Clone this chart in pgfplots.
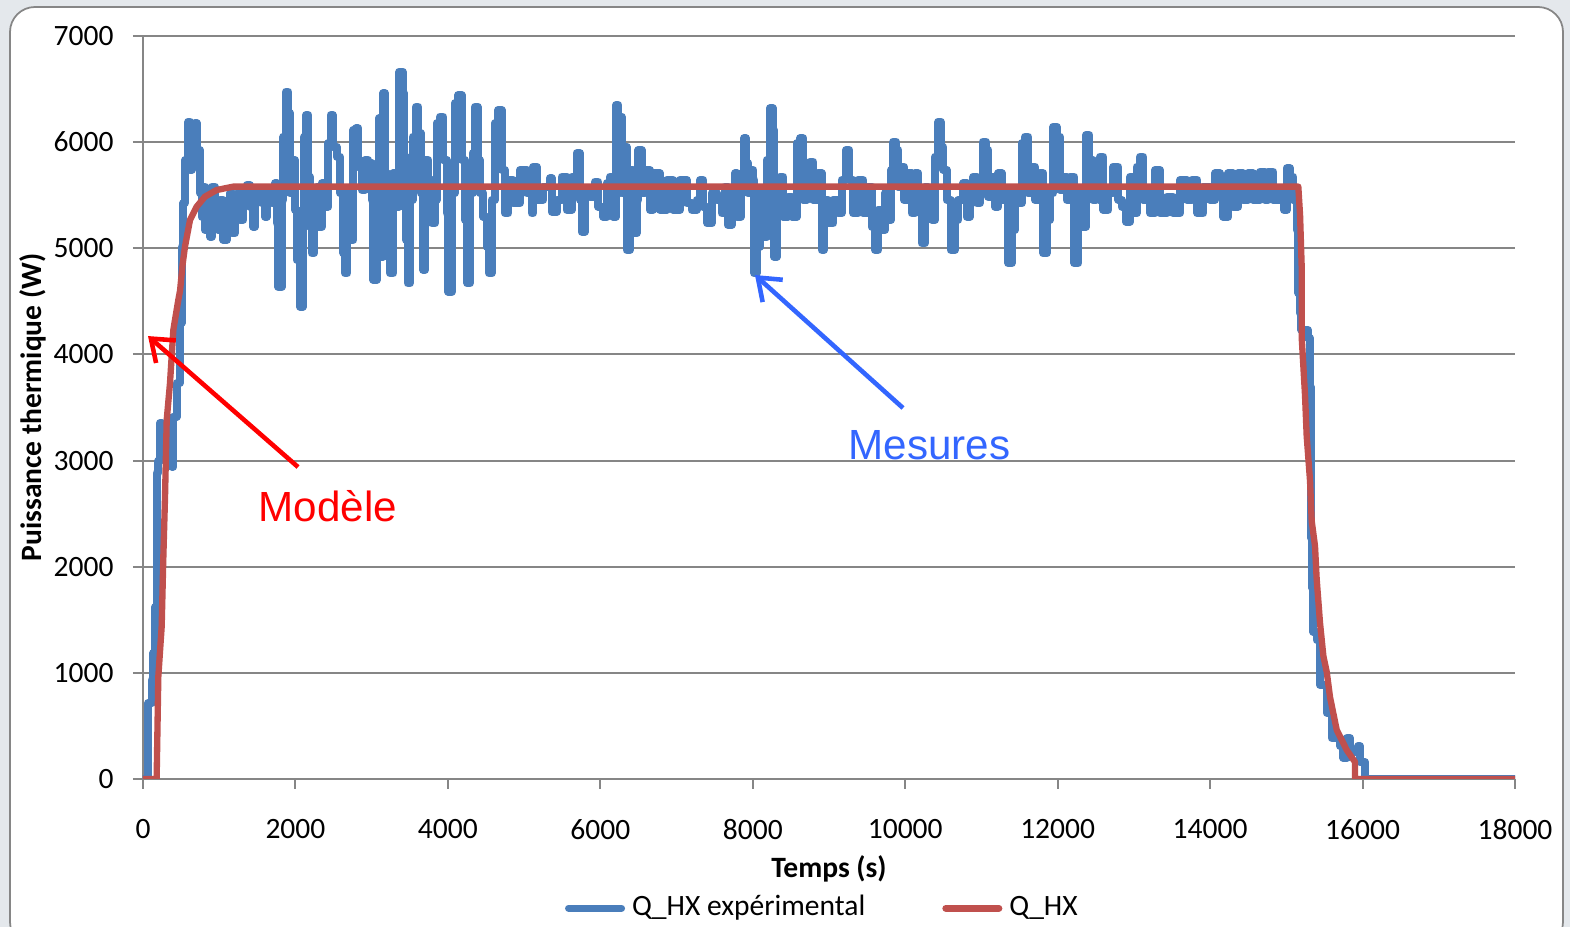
\documentclass[border=0pt]{standalone}
\usepackage{pgfplots}
\pgfplotsset{compat=1.18}
\usepackage{fontspec}
\setmainfont{Carlito}
\newfontfamily\arialfont{Liberation Sans}
\usetikzlibrary{arrows.meta}

\definecolor{serieblue}{RGB}{74,126,187}
\definecolor{seriered}{RGB}{192,80,77}
\definecolor{gridgray}{RGB}{134,134,134}
\definecolor{bggray}{RGB}{228,232,236}
\definecolor{mesblue}{RGB}{51,102,255}

\begin{document}
\begin{tikzpicture}
% fond et cadre arrondi
\fill[bggray] (0,0) rectangle (15.70,9.27);
\draw[gridgray, line width=0.5pt, fill=white, rounded corners=0.25cm] (0.10,-0.2) rectangle (15.63,9.20);

\begin{axis}[
  at={(1.43cm,1.48cm)}, anchor=south west,
  width=13.72cm, height=7.43cm, scale only axis,
  xmin=0, xmax=18000, ymin=0, ymax=7000,
  xtick={0,2000,...,18000}, ytick={0,1000,...,7000},
  scaled ticks=false,
  /pgf/number format/.cd, 1000 sep={}, assume math mode=true, /pgfplots/.cd,
  axis x line*=bottom, axis y line*=left,
  axis line style={gridgray, line width=0.7pt},
  tick style={gridgray, line width=0.6pt},
  tick align=outside, major tick length=0.1cm,
  ymajorgrids, grid style={gridgray, line width=0.6pt},
  tick label style={font=\fontsize{8.4}{10}\selectfont},
  xticklabel style={yshift=-0.18cm},
  yticklabel style={xshift=-0.07cm},
  xlabel={\textbf{Temps (s)}},
  ylabel={\textbf{Puissance thermique (W)}},
  label style={font=\fontsize{8.4}{10}\selectfont},
  xlabel style={at={(0.5,-0.121)}, anchor=center},
  ylabel style={at={(-0.0802,0.5)}, anchor=center},
  legend columns=2,
  legend style={at={(0.497,-0.174)}, anchor=center, draw=none, fill=none,
    font=\fontsize{8.4}{10}\selectfont,
    /tikz/every even column/.append style={column sep=0.7cm}},
  legend image code/.code={\draw[#1, line width=2pt] (0cm,0cm) -- (0.53cm,0cm);},
]

\addplot[serieblue, line width=2.3pt, line join=round, line cap=round, const plot] coordinates {
(0,0) (66,0) (70,716) (114,933) (135,1187) (157,1620) (179,2883) (200,3000) (223,3354)
(245,3150) (300,3050) (376,2942) (398,3413) (442,3730) (486,4300) (508,5016) (530,5424)
(551,5832) (595,6193) (617,5738) (639,5926) (661,6146) (683,6177) (704,5832) (726,5926)
(748,5518) (770,5298) (792,5581) (814,5173) (836,5392) (879,5110) (901,5581) (945,5298)
(989,5173) (1011,5455) (1054,5078) (1098,5424) (1142,5518) (1164,5141) (1207,5392)
(1251,5518) (1273,5267) (1317,5518) (1360,5596) (1404,5392) (1448,5204) (1470,5518)
(1513,5518) (1557,5424) (1601,5298) (1623,5518) (1688,5424) (1732,5612) (1754,5235)
(1776,4639) (1820,5455) (1841,6052) (1876,6476) (1907,6272) (1929,5518) (1951,5738)
(1973,5832) (1994,5361) (2016,4890) (2060,4450) (2095,5267) (2112,6052) (2139,6256)
(2169,5675) (2191,5204) (2213,4953) (2244,5455) (2279,5581) (2300,5204) (2344,5612)
(2388,5392) (2432,5989) (2462,6256) (2489,5958) (2541,5864) (2585,5518) (2629,4953)
(2650,4764) (2681,5518) (2716,5078) (2760,6115) (2795,6130) (2825,5769) (2869,5549)
(2913,5832) (2956,5801) (3000,5455) (3022,4702) (3066,5518) (3096,6224) (3109,4921)
(3153,6460) (3175,5706) (3196,5361) (3240,4764) (3284,5706) (3328,5392) (3363,6664)
(3406,6460) (3424,5864) (3450,5078) (3472,4670) (3503,5455) (3538,6052) (3581,6334)
(3612,6083) (3643,5518) (3677,4796) (3699,5832) (3743,5644) (3787,5235) (3831,5455)
(3852,6177) (3896,6240) (3940,5832) (3984,5330) (4005,4592) (4049,5518) (4093,6366)
(4137,6444) (4180,5832) (4224,5267) (4255,4670) (4290,5518) (4325,5895) (4355,6334)
(4390,5832) (4421,5518) (4465,5298) (4508,5016) (4539,4764) (4574,5455) (4618,6177)
(4661,6303) (4705,5738) (4749,5330) (4793,5644) (4858,5424) (4946,5738) (5033,5518)
(5099,5330) (5120,5769) (5164,5455) (5252,5581) (5339,5659) (5361,5345) (5427,5455)
(5492,5675) (5558,5361) (5623,5675) (5689,5895) (5733,5455) (5755,5157) (5798,5518)
(5864,5487) (5930,5628) (5973,5392) (6039,5298) (6083,5612) (6126,5675) (6170,5298)
(6205,6350) (6236,5518) (6258,6240) (6280,5518) (6310,5958) (6345,4984) (6389,5738)
(6433,5141) (6477,5455) (6499,5926) (6542,5518) (6586,5738) (6651,5361) (6695,5706)
(6783,5361) (6870,5644) (6958,5361) (7045,5644) (7133,5424) (7198,5361) (7264,5455)
(7308,5644) (7351,5392) (7404,5235) (7461,5518) (7526,5455) (7592,5330) (7636,5581)
(7671,5220) (7723,5518) (7767,5706) (7797,5298) (7841,5612) (7885,6036) (7911,5801)
(7942,5518) (7973,5738) (8008,5644) (8021,4764) (8052,5016) (8095,5518) (8139,5110)
(8183,5832) (8226,6319) (8261,6115) (8279,4921) (8314,5518) (8357,5675) (8401,5298)
(8467,5487) (8510,5298) (8576,5989) (8620,6036) (8663,5455) (8707,5549) (8751,5816)
(8795,5455) (8860,5706) (8904,4984) (8934,5455) (8991,5235) (9057,5455) (9122,5330)
(9166,5644) (9223,5926) (9267,5644) (9319,5330) (9385,5644) (9407,5644) (9451,5330)
(9516,5581) (9560,5204) (9604,4984) (9647,5361) (9691,5173) (9735,5518) (9779,5267)
(9814,5738) (9844,6005) (9879,5926) (9910,5581) (9954,5769) (9984,5455) (10041,5706)
(10085,5330) (10129,5706) (10172,5455) (10216,5047) (10260,5581) (10304,5298) (10347,5267)
(10391,5864) (10435,6193) (10465,5958) (10500,5738) (10544,5455) (10596,4984) (10653,5267)
(10697,5455) (10763,5612) (10806,5298) (10850,5518) (10894,5675) (10938,5424) (10981,5581)
(11016,6005) (11060,5926) (11091,5487) (11134,5675) (11178,5392) (11222,5706) (11266,5455)
(11309,5549) (11353,4859) (11397,5173) (11440,5518) (11484,5424) (11528,5989) (11572,6052)
(11615,5518) (11659,5769) (11703,5455) (11768,5706) (11812,4953) (11856,5267) (11900,5518)
(11943,6146) (11987,6052) (12031,5549) (12075,5675) (12118,5455) (12162,5675) (12219,4859)
(12271,5518) (12315,5204) (12372,6068) (12416,5832) (12459,5455) (12503,5801) (12547,5455)
(12556,5864) (12600,5361) (12665,5518) (12731,5769) (12797,5455) (12840,5392) (12897,5251)
(12950,5675) (12993,5330) (13037,5769) (13081,5864) (13125,5455) (13168,5518) (13212,5330)
(13278,5738) (13343,5330) (13431,5487) (13518,5330) (13606,5644) (13693,5455) (13759,5644)
(13833,5330) (13912,5581) (13999,5455) (14065,5706) (14130,5518) (14174,5298) (14240,5706)
(14305,5392) (14371,5706) (14436,5455) (14502,5706) (14568,5455) (14655,5722) (14721,5455)
(14764,5722) (14830,5455) (14918,5549) (14970,5361) (15005,5753) (15049,5675) (15092,5455)
(15136,5173) (15148,5351) (15158,4576) (15176,4390) (15198,4230) (15285,4155) (15311,3693)
(15318,3231) (15320,2700) (15325,2270) (15340,1800) (15355,1385) (15398,1309) (15442,886)
(15530,622) (15595,386) (15705,311) (15749,198) (15792,386) (15836,254) (15945,311)
(15967,160) (16033,0) (18000,0)
};
\addlegendentry{Q\_HX expérimental}

\addplot[seriered, line width=1.8pt, line join=round, line cap=round] coordinates {
(0,0) (179,0) (201,964) (245,1435) (267,2094) (289,2659) (311,3382) (354,3728) (398,4230)
(463,4512) (486,4600) (520,4850) (551,5016) (617,5267) (704,5392) (814,5487) (967,5549)
(1186,5581) (15157,5581) (15180,5313) (15202,4813) (15202,4154) (15245,3617) (15267,3231)
(15311,2807) (15333,2430) (15376,2195) (15398,1884) (15442,1469) (15486,1158) (15530,1008)
(15573,772) (15661,462) (15792,273) (15901,160) (15901,0) (18000,0)
};
\addlegendentry{Q\_HX}

\draw[red, line width=1.3pt, -{Straight Barb[length=0.2cm,width=0.3cm]}]
  (axis cs:2034,2939) -- (axis cs:66,4173);
\node[red, font=\arialfont\fontsize{12}{14}\selectfont] at (axis cs:2427,2572) {Modèle};
\draw[mesblue, line width=1.3pt, -{Straight Barb[length=0.2cm,width=0.3cm]}]
  (axis cs:9971,3495) -- (axis cs:8029,4748);
\node[mesblue, font=\arialfont\fontsize{12}{14}\selectfont] at (axis cs:10320,3146) {Mesures};
\end{axis}

\pgfresetboundingbox
\path[use as bounding box] (0,0) rectangle (15.70,9.27);
\end{tikzpicture}
\end{document}
